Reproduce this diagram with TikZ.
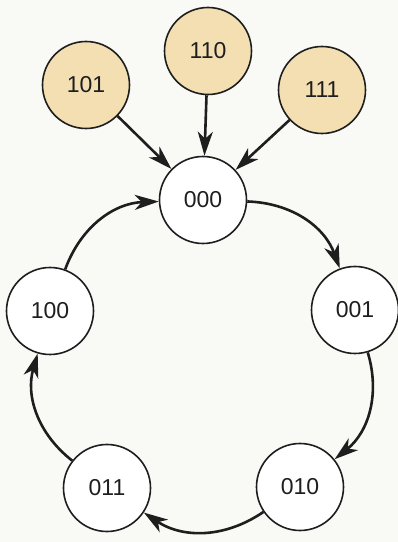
\documentclass[tikz,border=0pt]{standalone}
\usepackage{fontspec}
\setmainfont{Liberation Sans}
\usetikzlibrary{arrows.meta}
\definecolor{bgc}{RGB}{249,249,245}
\definecolor{tanfill}{RGB}{243,223,177}
\definecolor{ink}{RGB}{30,30,30}
\begin{document}
\begin{tikzpicture}[x=1pt,y=1pt,
  state/.style={circle,draw=ink,line width=1.6pt,minimum size=87pt,inner sep=0pt,fill=white,
    font=\fontsize{23}{25}\selectfont,text=ink},
  extra/.style={state,fill=tanfill},
  conn/.style={line width=2.6pt,draw=ink,-{Stealth[length=24pt,width=15pt,inset=7pt]}}]
\fill[bgc] (0,0) rectangle (398,542);
\useasboundingbox (0,0) rectangle (398,542);
\node[state] (s000) at (203,342) {000};
\node[state] (s001) at (355,232) {001};
\node[state] (s010) at (300,55) {010};
\node[state] (s011) at (107,54) {011};
\node[state] (s100) at (50,231) {100};
\node[extra] (s101) at (86,457) {101};
\node[extra] (s110) at (208,491) {110};
\node[extra] (s111) at (322,452) {111};
\draw[conn] (s101) -- (s000);
\draw[conn] (s110) -- (s000);
\draw[conn] (s111) -- (s000);
\draw[conn] (s000) to[bend left=34] (s001);
\draw[conn] (s001) to[bend left=34] (s010);
\draw[conn] (s010) to[bend left=34] (s011);
\draw[conn] (s011) to[bend left=34] (s100);
\draw[conn] (s100) to[bend left=34] (s000);
\end{tikzpicture}
\end{document}
